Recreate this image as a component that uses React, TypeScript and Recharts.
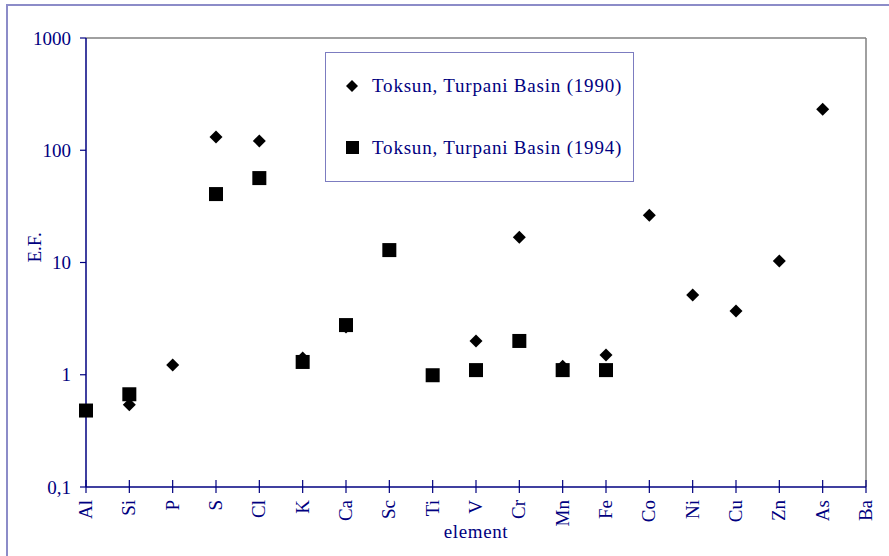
import {
  ScatterChart,
  Scatter,
  XAxis,
  YAxis,
  ReferenceLine
} from "recharts"

const elements = [
  "Al", "Si", "P", "S", "Cl", "K", "Ca", "Sc", "Ti", "V",
  "Cr", "Mn", "Fe", "Co", "Ni", "Cu", "Zn", "As", "Ba"
]

// enrichment factors, null = not measured
const ef1990: (number | null)[] = [
  0.48, 0.54, 1.22, 131, 121, 1.41, 2.66, null, null, 2.0,
  16.8, 1.19, 1.5, 26.4, 5.13, 3.69, 10.3, 232, null
]

const ef1994: (number | null)[] = [
  0.48, 0.67, null, 40.7, 56.5, 1.3, 2.77, 12.9, 0.99, 1.1,
  2.0, 1.1, 1.1, null, null, null, null, null, null
]

const seriesNames = ["Toksun, Turpani Basin (1990)", "Toksun, Turpani Basin (1994)"]

const yTicks = [0.1, 1, 10, 100, 1000]

const NAVY = "#000080"
const FONT = "'Liberation Serif', 'Times New Roman', serif"

const toPoints = (vals: (number | null)[]) =>
  vals
    .map((v, i) => ({ x: i, y: v }))
    .filter((p) => p.y !== null)

const data1990 = toPoints(ef1990)
const data1994 = toPoints(ef1994)

function Diamond({ cx, cy }: any) {
  const r = 6.5
  return (
    <path
      d={`M${cx},${cy - r}L${cx + r},${cy}L${cx},${cy + r}L${cx - r},${cy}Z`}
      fill="#000"
    />
  )
}

function Square({ cx, cy }: any) {
  const h = 7
  return <rect x={cx - h} y={cy - h} width={h * 2} height={h * 2} fill="#000" />
}

function ElementTick({ x, y, payload }: any) {
  return (
    <g>
      <line x1={x} x2={x} y1={y - 7} y2={y + 6} stroke={NAVY} strokeWidth={1.2} />
      <text
        transform={`translate(${x + 6},${y + 13}) rotate(-90)`}
        textAnchor="end"
        fill={NAVY}
        fontSize={19}
        fontFamily={FONT}
      >
        {elements[payload.value]}
      </text>
    </g>
  )
}

function LegendBox() {
  const row = {
    display: "flex",
    alignItems: "center",
    height: 62,
    fontFamily: FONT,
    fontSize: 19,
    letterSpacing: 0.8,
    color: NAVY
  }
  return (
    <div
      style={{
        position: "absolute",
        left: 325,
        top: 52,
        width: 309,
        height: 130,
        border: "1.5px solid #7c7cc0",
        background: "#fff",
        boxSizing: "border-box",
        paddingLeft: 20,
        paddingTop: 2
      }}
    >
      <div style={row}>
        <svg width={26} height={14}>
          <path d="M6,1L12,7L6,13L0,7Z" fill="#000" />
        </svg>
        <span>{seriesNames[0]}</span>
      </div>
      <div style={row}>
        <svg width={26} height={14}>
          <rect x={0} y={0} width={13} height={13} fill="#000" />
        </svg>
        <span>{seriesNames[1]}</span>
      </div>
    </div>
  )
}

export default function App() {
  return (
    <div style={{ position: "fixed", left: 0, top: 0, width: 889, height: 556, background: "#fff" }}>
      <div
        style={{
          position: "absolute",
          left: 6,
          top: 4,
          width: 900,
          height: 600,
          border: "2px solid #8c8cc8"
        }}
      />
      <ScatterChart
        width={889}
        height={556}
        margin={{ top: 38, right: 23, bottom: 0, left: 6 }}
        style={{ position: "absolute", left: 0, top: 0 }}
      >
        <XAxis
          type="number"
          dataKey="x"
          domain={[0, 18]}
          ticks={elements.map((_, i) => i)}
          interval={0}
          height={69}
          tickSize={0}
          tickMargin={0}
          tick={<ElementTick />}
          axisLine={{ stroke: NAVY, strokeWidth: 1.5 }}
          label={{
            value: "element",
            position: "insideBottom",
            offset: 18,
            dx: 0,
            fill: NAVY,
            fontSize: 19,
            letterSpacing: 0.6,
            fontFamily: FONT
          }}
        />
        <YAxis
          type="number"
          dataKey="y"
          scale="log"
          domain={[0.1, 1000]}
          ticks={yTicks}
          interval={0}
          width={80}
          tickSize={6}
          tickMargin={9}
          allowDataOverflow
          tickFormatter={(v: number) => (v === 0.1 ? "0,1" : String(v))}
          tick={{ fill: NAVY, fontSize: 19, fontFamily: FONT }}
          tickLine={{ stroke: NAVY, strokeWidth: 1.2 }}
          axisLine={{ stroke: NAVY, strokeWidth: 1.5 }}
          label={{
            value: "E.F.",
            angle: -90,
            position: "insideLeft",
            offset: 28,
            fill: NAVY,
            fontSize: 19,
            fontFamily: FONT
          }}
        />
        <ReferenceLine y={1000} stroke="#808080" strokeWidth={1.5} />
        <ReferenceLine x={18} stroke="#808080" strokeWidth={1.5} />
        <Scatter
          name={seriesNames[0]}
          data={data1990}
          shape={<Diamond />}
          isAnimationActive={false}
        />
        <Scatter
          name={seriesNames[1]}
          data={data1994}
          shape={<Square />}
          isAnimationActive={false}
        />
      </ScatterChart>
      <LegendBox />
    </div>
  )
}
